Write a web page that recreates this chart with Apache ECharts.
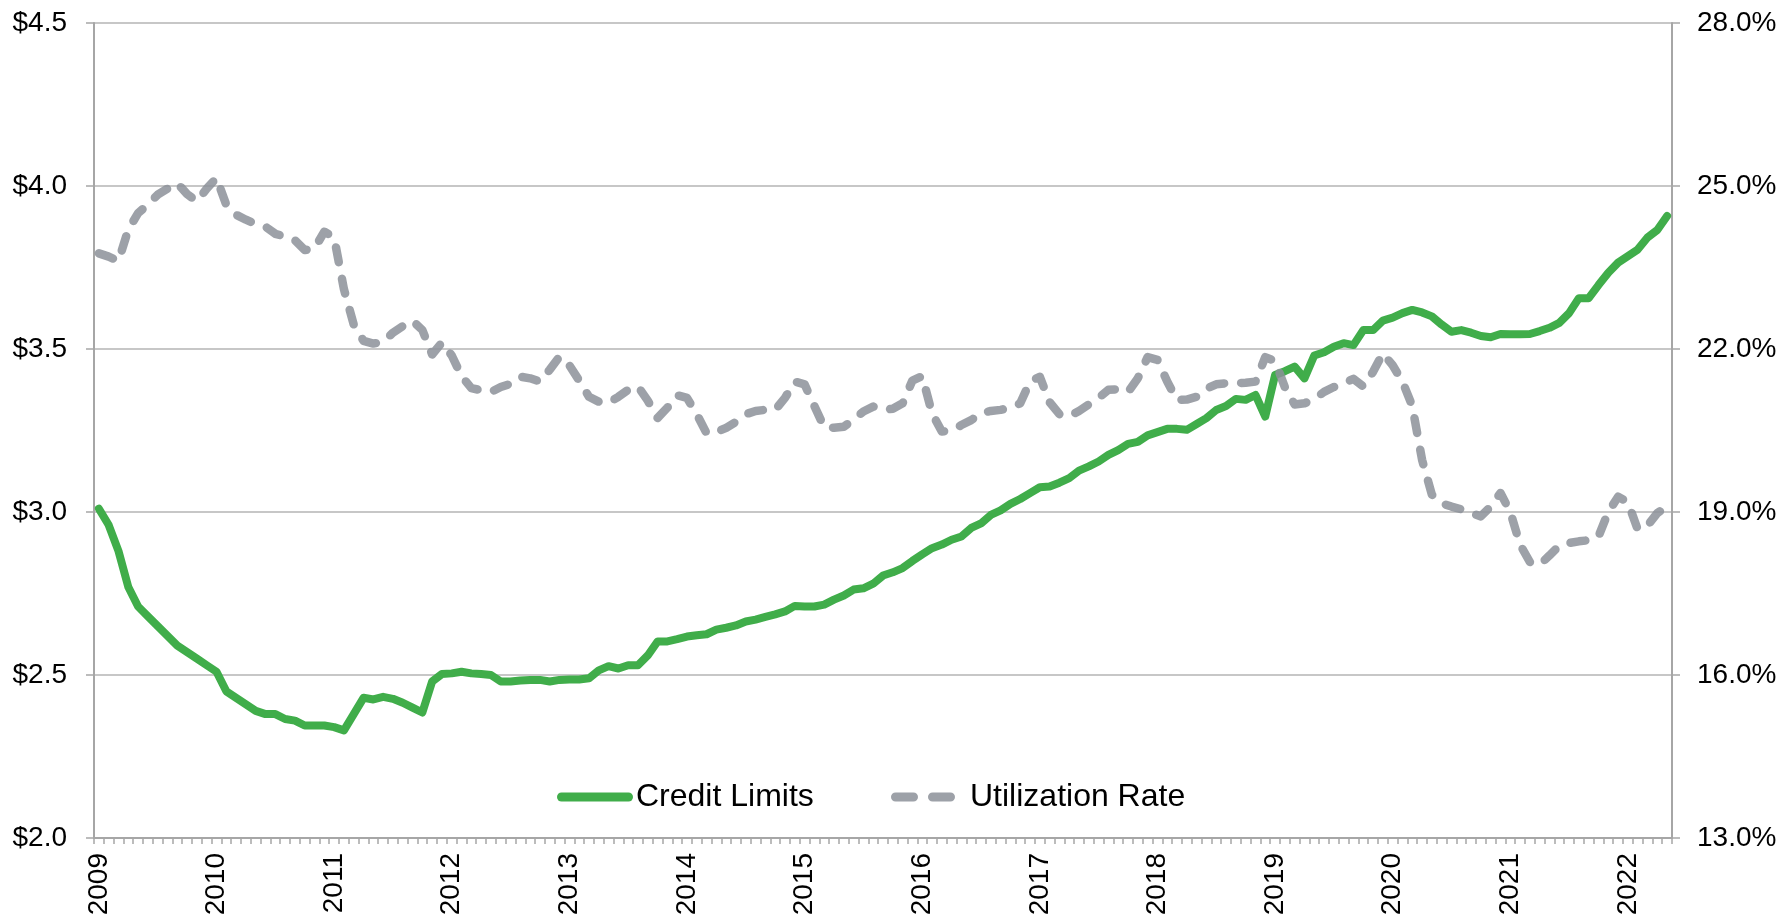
<!DOCTYPE html>
<html>
<head>
<meta charset="utf-8">
<script src="https://cdn.jsdelivr.net/npm/echarts@6/dist/echarts.min.js"></script>
<style>
html,body{margin:0;padding:0;background:#fff;}
#chart{width:1785px;height:922px;}
</style>
</head>
<body>
<div id="chart"></div>
<script>
// Monthly categories Jan 2009 .. May 2022
const years = [2009,2010,2011,2012,2013,2014,2015,2016,2017,2018,2019,2020,2021,2022];
const lastYearMonths = 5;
const categories = [];
years.forEach(function(y, k){
  const n = (k === years.length - 1) ? lastYearMonths : 12;
  for (let m = 1; m <= n; m++) categories.push(y + '-' + (m < 10 ? '0' + m : m));
});

// Credit limits (trillions of $), monthly
const creditLimits = [
3.01,2.96,2.88,2.77,2.71,2.68,2.65,2.62,2.59,2.57,2.55,2.53,
2.51,2.45,2.43,2.41,2.39,2.38,2.38,2.365,2.36,2.345,2.345,2.345,
2.34,2.33,2.38,2.43,2.425,2.433,2.427,2.415,2.40,2.385,2.48,2.503,
2.505,2.51,2.505,2.503,2.50,2.48,2.48,2.483,2.485,2.485,2.48,2.485,
2.486,2.486,2.49,2.514,2.527,2.52,2.53,2.53,2.56,2.603,2.603,2.61,
2.618,2.622,2.625,2.639,2.645,2.652,2.664,2.67,2.678,2.686,2.695,2.712,
2.71,2.71,2.716,2.731,2.744,2.762,2.766,2.78,2.805,2.815,2.828,2.85,
2.87,2.889,2.90,2.915,2.925,2.951,2.965,2.991,3.005,3.025,3.04,3.058,
3.076,3.078,3.09,3.104,3.127,3.14,3.155,3.175,3.19,3.209,3.215,3.235,
3.245,3.255,3.255,3.252,3.27,3.288,3.313,3.325,3.347,3.344,3.359,3.293,
3.42,3.432,3.446,3.41,3.48,3.49,3.507,3.518,3.512,3.558,3.558,3.587,
3.596,3.61,3.62,3.612,3.60,3.575,3.553,3.558,3.55,3.54,3.536,3.546,
3.545,3.545,3.546,3.555,3.565,3.58,3.61,3.656,3.656,3.696,3.734,3.765,
3.785,3.805,3.842,3.865,3.908
];

// Utilization rate (%), monthly
const utilizationRate = [
23.76,23.70,23.62,24.20,24.50,24.66,24.84,24.95,25.05,24.85,24.72,24.95,
25.15,24.65,24.47,24.38,24.30,24.25,24.12,24.07,24.00,23.82,23.85,24.16,
24.05,23.10,22.45,22.15,22.10,22.13,22.30,22.42,22.52,22.35,21.90,22.12,
21.88,21.50,21.28,21.24,21.21,21.30,21.36,21.49,21.46,21.40,21.62,21.86,
21.70,21.42,21.12,21.03,21.01,21.12,21.25,21.31,21.05,20.73,20.92,21.15,
21.10,20.80,20.45,20.47,20.55,20.66,20.80,20.86,20.88,20.88,21.10,21.40,
21.35,20.95,20.56,20.55,20.57,20.70,20.85,20.94,20.88,20.90,21.00,21.42,
21.50,20.82,20.48,20.50,20.60,20.69,20.82,20.86,20.88,20.92,21.00,21.40,
21.49,21.02,20.80,20.76,20.86,20.98,21.10,21.25,21.26,21.21,21.46,21.85,
21.80,21.40,21.06,21.07,21.12,21.27,21.35,21.37,21.37,21.38,21.40,21.85,
21.78,21.30,20.98,21.00,21.08,21.21,21.30,21.37,21.45,21.31,21.58,21.92,
21.70,21.40,20.95,19.96,19.32,19.16,19.10,19.05,18.98,18.92,19.10,19.35,
19.00,18.40,18.08,18.03,18.20,18.38,18.43,18.46,18.48,18.55,19.00,19.28,
19.18,18.68,18.75,18.98,19.10
];

const seriesNames = ['Credit Limits', 'Utilization Rate'];
const leftTicks = { min: 2.0, max: 4.5, step: 0.5 };
const rightTicks = { min: 13.0, max: 28.0, step: 3.0 };

const chart = echarts.init(document.getElementById('chart'), null, {renderer: 'canvas'});
const FONT = 'Liberation Sans, Arial, sans-serif';
const axisGrey = '#a6a6a6';
const green = '#40ad4a';
const grey = 'rgba(140,144,153,0.85)';

const solidIcon = 'path://M4.5,0 H71.5 A4.5,4.5 0 0 1 71.5,9 H4.5 A4.5,4.5 0 0 1 4.5,0 Z';
const dashIcon = 'path://M4.5,0 H22.5 A4.5,4.5 0 0 1 22.5,9 H4.5 A4.5,4.5 0 0 1 4.5,0 Z M41.5,0 H59.5 A4.5,4.5 0 0 1 59.5,9 H41.5 A4.5,4.5 0 0 1 41.5,0 Z';

chart.setOption({
  animation: false,
  backgroundColor: '#ffffff',
  grid: { left: 94, right: 113, top: 23, bottom: 84, containLabel: false },
  legend: [
    {
      data: [{ name: seriesNames[0], icon: solidIcon }],
      left: 552, top: 776,
      itemWidth: 76, itemHeight: 9,
      itemStyle: { borderWidth: 0 },
      textStyle: { fontFamily: FONT, fontSize: 32, color: '#000', padding: [0,0,0,-2] }
    },
    {
      data: [{ name: seriesNames[1], icon: dashIcon }],
      left: 886, top: 776,
      itemWidth: 64, itemHeight: 9,
      itemStyle: { borderWidth: 0 },
      textStyle: { fontFamily: FONT, fontSize: 32, color: '#000', padding: [0,0,0,10] }
    }
  ],
  xAxis: {
    type: 'category',
    data: categories,
    boundaryGap: true,
    axisLine: { show: true, lineStyle: { color: axisGrey, width: 2 } },
    axisTick: { show: true, interval: 0, length: 6, inside: false, lineStyle: { color: axisGrey, width: 1.5 } },
    axisLabel: {
      interval: function(idx){ return idx % 12 === 0; },
      rotate: 90,
      margin: 15,
      fontFamily: FONT,
      fontSize: 28,
      color: '#000',
      formatter: function(v){ return v.slice(0,4); }
    },
    splitLine: { show: false }
  },
  yAxis: [
    {
      type: 'value',
      min: leftTicks.min, max: leftTicks.max, interval: leftTicks.step,
      position: 'left',
      axisLine: { show: true, lineStyle: { color: axisGrey, width: 2 } },
      axisTick: { show: true, length: 8, lineStyle: { color: axisGrey, width: 1.5 } },
      axisLabel: { margin: 27, fontFamily: FONT, fontSize: 28, color: '#000',
        formatter: function(v){ return '$' + v.toFixed(1); } },
      splitLine: { show: true, lineStyle: { color: '#b5b5b5', width: 1.5 } }
    },
    {
      type: 'value',
      min: rightTicks.min, max: rightTicks.max, interval: rightTicks.step,
      position: 'right',
      axisLine: { show: true, lineStyle: { color: axisGrey, width: 2 } },
      axisTick: { show: true, length: 8, lineStyle: { color: axisGrey, width: 1.5 } },
      axisLabel: { margin: 25, fontFamily: FONT, fontSize: 28, color: '#000',
        formatter: function(v){ return v.toFixed(1) + '%'; } },
      splitLine: { show: false }
    }
  ],
  series: [
    {
      name: seriesNames[0],
      type: 'line',
      yAxisIndex: 0,
      data: creditLimits,
      symbol: 'none',
      smooth: false,
      color: green,
      lineStyle: { color: green, width: 8, cap: 'round', join: 'round' },
      z: 2
    },
    {
      name: seriesNames[1],
      type: 'line',
      yAxisIndex: 1,
      data: utilizationRate,
      symbol: 'none',
      smooth: false,
      color: grey,
      lineStyle: { color: grey, width: 8.5, type: [15, 17], cap: 'round', join: 'round' },
      z: 3
    }
  ]
});
</script>
</body>
</html>
